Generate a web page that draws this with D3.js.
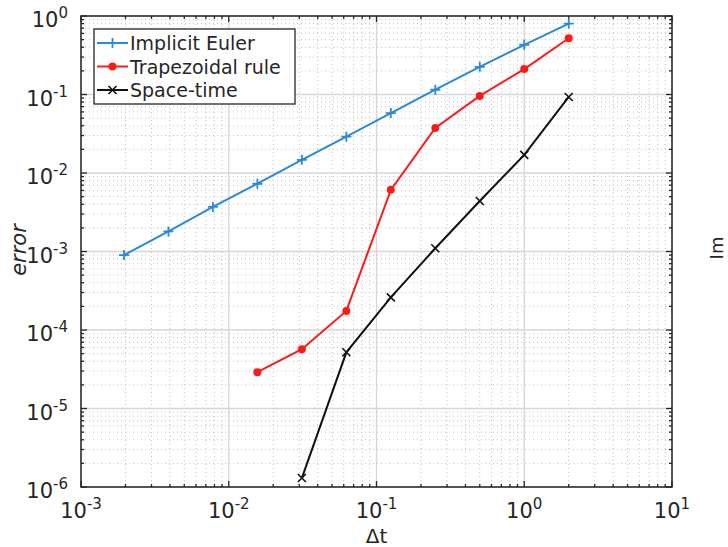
<!DOCTYPE html>
<html>
<head>
<meta charset="utf-8">
<script src="https://cdn.jsdelivr.net/npm/d3@7"></script>
<style>
  body { margin: 0; background: #fff; overflow: hidden; }
  text { font-family: "DejaVu Sans", sans-serif; fill: #262626; }
</style>
</head>
<body>
<div id="container"></div>
<script>
// data
var dt = [1/512, 1/256, 1/128, 1/64, 1/32, 1/16, 1/8, 1/4, 1/2, 1, 2];
var eulerErr = [0.0009, 0.0018, 0.0037, 0.0073, 0.0147, 0.029, 0.058, 0.115, 0.225, 0.43, 0.8];
var trapDt = [1/64, 1/32, 1/16, 1/8, 1/4, 1/2, 1, 2];
var trapErr = [2.9e-5, 5.7e-5, 1.75e-4, 6.1e-3, 0.0374, 0.096, 0.211, 0.52];
var stDt = [1/32, 1/16, 1/8, 1/4, 1/2, 1, 2];
var stErr = [1.3e-6, 5.2e-5, 2.6e-4, 1.1e-3, 4.4e-3, 0.017, 0.093];
var xDecades = [-3, -2, -1, 0, 1];
var yDecades = [-6, -5, -4, -3, -2, -1, 0];
var legendNames = ["Implicit Euler", " Trapezoidal rule", "Space-time"];

var width = 728, height = 547;
var margin = { left: 81, top: 16, right: 56, bottom: 60 };
var pw = width - margin.left - margin.right;
var ph = height - margin.top - margin.bottom;

var x = d3.scaleLog().domain([1e-3, 1e1]).range([0, pw]);
var y = d3.scaleLog().domain([1e-6, 1e0]).range([ph, 0]);

var svg = d3.select("#container").append("svg")
  .attr("width", width).attr("height", height);
var g = svg.append("g").attr("transform", `translate(${margin.left} ${margin.top})`);

function minors(decades) {
  var arr = [];
  for (let i = 0; i < decades.length - 1; i++) {
    for (let k = 2; k <= 9; k++) arr.push(k * Math.pow(10, decades[i]));
  }
  return arr;
}
var xMinor = minors(xDecades), yMinor = minors(yDecades);
var xMajor = xDecades.map(d => Math.pow(10, d));
var yMajor = yDecades.map(d => Math.pow(10, d));

// minor grid
g.append("g").selectAll("line").data(xMinor).enter().append("line")
  .attr("x1", d => x(d)).attr("x2", d => x(d)).attr("y1", 0).attr("y2", ph)
  .style("stroke", "#c4c4c4").style("stroke-width", 1).style("stroke-dasharray", "1,3");
g.append("g").selectAll("line").data(yMinor).enter().append("line")
  .attr("y1", d => y(d)).attr("y2", d => y(d)).attr("x1", 0).attr("x2", pw)
  .style("stroke", "#c4c4c4").style("stroke-width", 1).style("stroke-dasharray", "1,3");
// major grid
g.append("g").selectAll("line").data(xMajor).enter().append("line")
  .attr("x1", d => x(d)).attr("x2", d => x(d)).attr("y1", 0).attr("y2", ph)
  .style("stroke", "#d6d6d6").style("stroke-width", 1.3);
g.append("g").selectAll("line").data(yMajor).enter().append("line")
  .attr("y1", d => y(d)).attr("y2", d => y(d)).attr("x1", 0).attr("x2", pw)
  .style("stroke", "#d6d6d6").style("stroke-width", 1.3);

// ticks on all four sides, pointing inward
var tickColor = "#262626";
function xticks(vals, len) {
  [0, ph].forEach(function (yy, side) {
    g.append("g").selectAll("line").data(vals).enter().append("line")
      .attr("x1", d => x(d)).attr("x2", d => x(d))
      .attr("y1", yy).attr("y2", side ? yy - len : yy + len)
      .style("stroke", tickColor).style("stroke-width", 1.3);
  });
}
function yticks(vals, len) {
  [0, pw].forEach(function (xx, side) {
    g.append("g").selectAll("line").data(vals).enter().append("line")
      .attr("y1", d => y(d)).attr("y2", d => y(d))
      .attr("x1", xx).attr("x2", side ? xx - len : xx + len)
      .style("stroke", tickColor).style("stroke-width", 1.3);
  });
}
xticks(xMajor, 6); xticks(xMinor, 3);
yticks(yMajor, 6); yticks(yMinor, 3);

g.append("rect").attr("width", pw).attr("height", ph)
  .style("fill", "none").style("stroke", tickColor).style("stroke-width", 1.5);

// tick labels
var xl = g.append("g").selectAll("text").data(xDecades).enter().append("text")
  .attr("x", d => x(Math.pow(10, d))).attr("y", ph + 31)
  .attr("text-anchor", "middle").style("font-size", "21px");
xl.append("tspan").text("10");
xl.append("tspan").attr("dy", -9).style("font-size", "15px").text(d => d);

var yl = g.append("g").selectAll("text").data(yDecades).enter().append("text")
  .attr("x", -13).attr("y", d => y(Math.pow(10, d)) + 11)
  .attr("text-anchor", "end").style("font-size", "21px");
yl.append("tspan").text("10");
yl.append("tspan").attr("dy", -9).style("font-size", "15px").text(d => d);

// axis labels
svg.append("text").attr("x", margin.left + pw / 2).attr("y", 543)
  .attr("text-anchor", "middle").style("font-size", "20px").text("Δt");
svg.append("text").attr("transform", "translate(26 250) rotate(-90)")
  .attr("text-anchor", "middle").style("font-size", "21px").style("font-style", "italic").text("error");
svg.append("text").attr("transform", "translate(723 248) rotate(-90)")
  .attr("text-anchor", "middle").style("font-size", "18px").text("Im");

// series
var colors = ["#2a8ad6", "#ff1a1a", "#111111"];
var line = d3.line().x(d => x(d[0])).y(d => y(d[1]));
var series = [
  d3.zip(dt, eulerErr),
  d3.zip(trapDt, trapErr),
  d3.zip(stDt, stErr)
];

function marker(sel, type, color) {
  if (type === 0) {
    sel.append("path").attr("d", "M-5,0H5M0,-5V5")
      .style("stroke", color).style("stroke-width", 1.8).style("fill", "none");
  } else if (type === 1) {
    sel.append("circle").attr("r", 4).style("fill", color);
  } else {
    sel.append("path").attr("d", "M-4,-4L4,4M-4,4L4,-4")
      .style("stroke", color).style("stroke-width", 1.6).style("fill", "none");
  }
}

series.forEach(function (pts, i) {
  g.append("path").datum(pts).attr("d", line)
    .style("fill", "none").style("stroke", colors[i]).style("stroke-width", 2);
  g.append("g").selectAll("g").data(pts).enter().append("g")
    .attr("transform", d => `translate(${x(d[0])} ${y(d[1])})`)
    .each(function () { marker(d3.select(this), i, colors[i]); });
});

// legend
var leg = svg.append("g").attr("transform", "translate(94 29)");
leg.append("rect").attr("width", 201).attr("height", 75)
  .style("fill", "#fff").style("stroke", tickColor).style("stroke-width", 1.3);
legendNames.forEach(function (name, i) {
  var row = leg.append("g").attr("transform", `translate(0 ${14 + i * 23.5})`);
  row.append("line").attr("x1", 3).attr("x2", 34)
    .style("stroke", colors[i]).style("stroke-width", 2);
  var m = row.append("g").attr("transform", "translate(18.5 0)");
  marker(m, i, colors[i]);
  row.append("text").attr("x", 36).attr("y", 7).style("font-size", "19px").text(name);
});
</script>
</body>
</html>
